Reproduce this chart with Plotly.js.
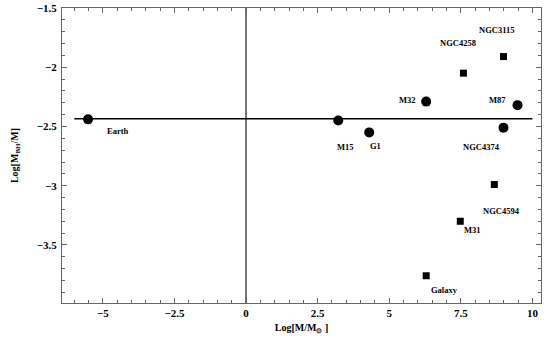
<!DOCTYPE html>
<html>
<head>
<meta charset="utf-8">
<script src="https://cdn.plot.ly/plotly-3.0.1.min.js"></script>
<style>
  body { margin: 0; background: #fff; }
  #graph { width: 550px; height: 340px; }
</style>
</head>
<body>
<div id="graph"></div>
<script>
// Objects plotted as circles
var circleNames = ['Earth', 'M15', 'G1', 'M32', 'M87', 'NGC4374'];
var circleX = [-5.52, 3.22, 4.30, 6.29, 9.48, 8.99];
var circleY = [-2.44, -2.45, -2.55, -2.29, -2.32, -2.51];

// Objects plotted as squares
var squareNames = ['NGC4258', 'NGC3115', 'NGC4594', 'M31', 'Galaxy'];
var squareX = [7.59, 8.99, 8.67, 7.48, 6.29];
var squareY = [-2.05, -1.91, -2.99, -3.30, -3.76];

// Horizontal reference line
var refX = [-6, 10];
var refY = [-2.435, -2.435];

// label offsets (px) from each point
var circleShift = [[30, -12], [7, -26], [6, -14], [-19, 2], [-20, 5], [-22, -19]];
var squareShift = [[-5, 30], [-7, 27], [7, -26], [12, -9], [18, -14]];

var labelFont = { family: 'Liberation Serif', size: 8.5, color: '#000' };

var annotations = [];
circleNames.forEach(function (n, i) {
  annotations.push({
    x: circleX[i], y: circleY[i], text: '<b>' + n + '</b>', showarrow: false,
    xshift: circleShift[i][0], yshift: circleShift[i][1], font: labelFont
  });
});
squareNames.forEach(function (n, i) {
  annotations.push({
    x: squareX[i], y: squareY[i], text: '<b>' + n + '</b>', showarrow: false,
    xshift: squareShift[i][0], yshift: squareShift[i][1], font: labelFont
  });
});

var data = [
  {
    x: refX, y: refY, mode: 'lines', type: 'scatter',
    line: { color: '#000', width: 1.5 }, hoverinfo: 'skip'
  },
  {
    x: circleX, y: circleY, mode: 'markers', type: 'scatter',
    marker: { symbol: 'circle', size: 10, color: '#000' }
  },
  {
    x: squareX, y: squareY, mode: 'markers', type: 'scatter',
    marker: { symbol: 'square', size: 7, color: '#000' }
  }
];

var tickFont = { family: 'Liberation Serif', size: 11, color: '#000' };
var axisCommon = {
  showline: true, linecolor: '#666', linewidth: 1, mirror: 'allticks',
  ticks: 'inside', ticklen: 5, tickcolor: '#666', tickwidth: 1,
  showgrid: false, tickfont: tickFont
};

var layout = {
  width: 550, height: 340,
  margin: { l: 62, r: 9, t: 8, b: 37 },
  paper_bgcolor: '#fff', plot_bgcolor: '#fff',
  showlegend: false,
  font: { family: 'Liberation Serif', color: '#000' },
  xaxis: Object.assign({}, axisCommon, {
    range: [-6.43, 10.3], tickvals: [-5, -2.5, 0, 2.5, 5, 7.5, 10],
    ticktext: ['<b>−5</b>', '<b>−2.5</b>', '<b>0</b>', '<b>2.5</b>', '<b>5</b>', '<b>7.5</b>', '<b>10</b>'],
    minor: { dtick: 0.5, tick0: 0, ticks: 'inside', ticklen: 3, tickcolor: '#666' },
    zeroline: true, zerolinecolor: '#777', zerolinewidth: 1.5,
    title: { text: '<b>Log[M/M<sub>⊙</sub> ]</b>', font: { family: 'Liberation Serif', size: 10 }, standoff: 5 }
  }),
  yaxis: Object.assign({}, axisCommon, {
    range: [-3.99, -1.5], tickvals: [-3.5, -3, -2.5, -2, -1.5],
    ticktext: ['<b>−3.5</b>', '<b>−3</b>', '<b>−2.5</b>', '<b>−2</b>', '<b>−1.5</b>'],
    ticklabelstandoff: 2,
    minor: { dtick: 0.1, tick0: 0, ticks: 'inside', ticklen: 3, tickcolor: '#666' },
    zeroline: false,
    title: { text: '<b>Log[M<sub>BH</sub>/M]</b>', font: { family: 'Liberation Serif', size: 10 }, standoff: 16 }
  }),
  annotations: annotations
};

Plotly.newPlot('graph', data, layout, { staticPlot: true });
</script>
</body>
</html>
